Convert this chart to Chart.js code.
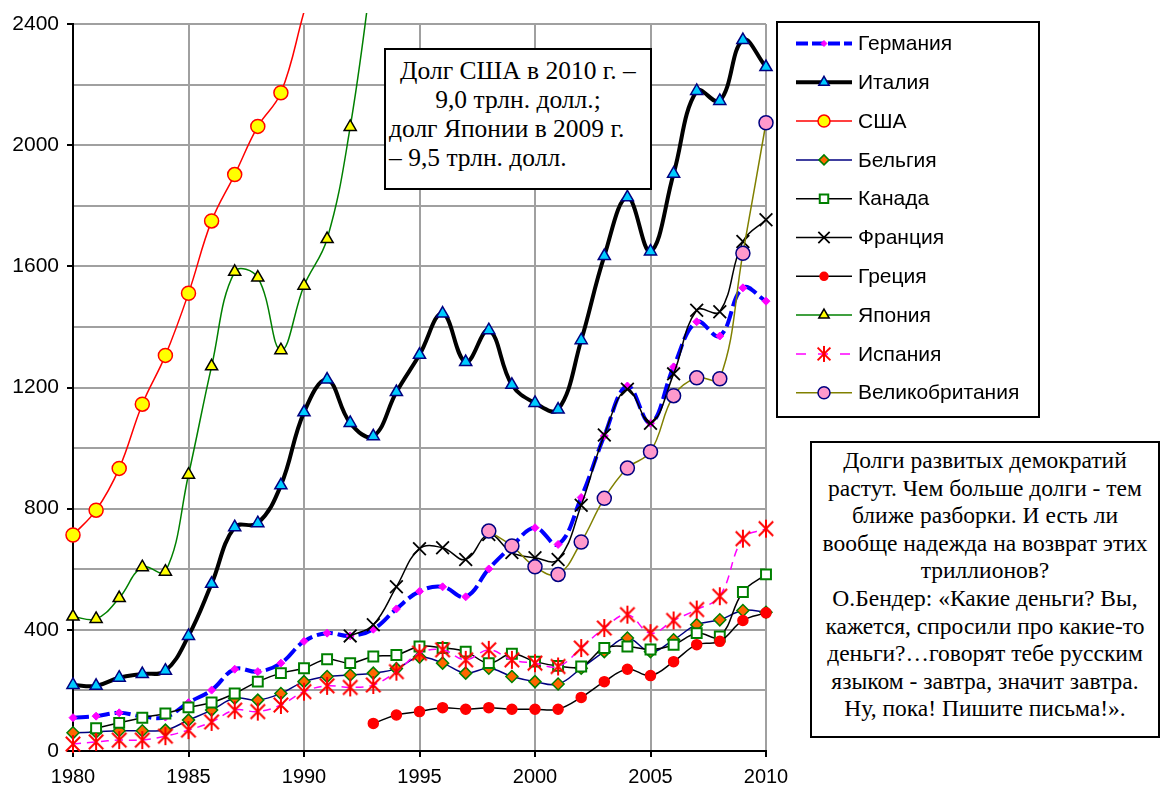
<!DOCTYPE html>
<html>
<head>
<meta charset="utf-8">
<script src="https://cdn.jsdelivr.net/npm/chart.js@4.4.1/dist/chart.umd.min.js"></script>
<style>
  html, body { margin: 0; padding: 0; background: #fff; }
  #wrap { position: relative; width: 1161px; height: 787px; }
  canvas { position: absolute; left: 0; top: 0; }
  .note {
    position: absolute;
    background: #fff;
    border: 2px solid #000;
    font-family: "Liberation Serif", "Times New Roman", serif;
    color: #000;
    white-space: nowrap;
    box-sizing: border-box;
  }
  #note1 { left: 384px; top: 48px; width: 268px; height: 142px; font-size: 25.5px; line-height: 29px; padding-top: 6px; }
  #note1 .c { text-align: center; }
  #note1 .l { text-align: left; padding-left: 3px; }
  #note2 { left: 810px; top: 441px; width: 350px; height: 297px; font-size: 23.5px; line-height: 27.6px; padding-top: 4px; text-align: center; }
</style>
</head>
<body>
<div id="wrap">
  <canvas id="chart" width="1161" height="787"></canvas>
  <div id="note1" class="note">
    <div class="c">Долг США в 2010 г. –</div>
    <div class="c">9,0 трлн. долл.;</div>
    <div class="l">долг Японии в 2009 г.</div>
    <div class="l">– 9,5 трлн. долл.</div>
  </div>
  <div id="note2" class="note">
    Долги развитых демократий<br>
    растут. Чем больше долги - тем<br>
    ближе разборки. И есть ли<br>
    вообще надежда на возврат этих<br>
    триллионов?<br>
    О.Бендер: «Какие деньги? Вы,<br>
    кажется, спросили про какие-то<br>
    деньги?…говорят тебе русским<br>
    языком - завтра, значит завтра.<br>
    Ну, пока! Пишите письма!».
  </div>
</div>

<script>
/* ---------------- Data (billions) ---------------- */
const years = [];
for (let y = 1980; y <= 2010; y++) years.push(y);

const germany = [110, 115, 126, 114, 112, 160, 201, 270, 262, 290, 362, 389, 380, 402, 469, 527,
    542, 509, 601, 676, 737, 682, 837, 1040, 1205, 1082, 1268, 1417, 1370, 1529, 1485];
const italy = [218, 215, 242, 254, 265, 380, 552, 739, 752, 877, 1118, 1226, 1083, 1039, 1185, 1308,
    1444, 1284, 1389, 1209, 1149, 1127, 1356, 1634, 1828, 1649, 1906, 2179, 2146, 2347, 2258];
const usa = [713, 795, 933, 1145, 1306, 1511, 1750, 1903, 2062, 2173, 2440,
    null, null, null, null, null, null, null, null, null, null, null, null, null, null, null,
    null, null, null, null, null];
const belgium = [60, 63, 67, 67, 69, 102, 135, 174, 168, 190, 229, 246, 251, 257, 272, 310,
    290, 257, 273, 246, 229, 221, 273, 328, 373, 328, 367, 417, 433, 464, 458];
const canada = [null, 75, 93, 110, 124, 144, 160, 190, 229, 257, 273, 303, 290, 312, 317, 345,
    340, 328, 290, 321, 295, 281, 279, 340, 345, 335, 351, 389, 378, 525, 583];
const france = [null, null, null, null, null, null, null, null, null, null, null, null, 380, 417, 542, 668,
    671, 632, 715, 655, 638, 632, 811, 1043, 1194, 1082, 1245, 1455, 1450, 1682, 1754];
const greece = [null, null, null, null, null, null, null, null, null, null, null, null, null, 91, 119, 130,
    143, 138, 143, 138, 138, 138, 177, 229, 270, 249, 295, 351, 362, 431, 456];
const japan = [444, 436, 505, 607, 592, 912, 1270, 1582, 1563, 1323, 1536, 1690, 2060, 2600,
    null, null, null, null, null, null, null, null, null, null, null, null, null, null, null, null, null];
const spain = [23, 30, 36, 36, 49, 69, 96, 135, 130, 152, 196, 215, 210, 218, 262, 323,
    334, 301, 334, 301, 290, 279, 340, 406, 450, 389, 431, 467, 511, 701, 734];
const uk = [null, null, null, null, null, null, null, null, null, null, null, null, null, null, null, null,
    null, null, 726, 677, 608, 583, 690, 834, 934, 988, 1173, 1232, 1229, 1643, 2074];

const yTicks = [0, 400, 800, 1200, 1600, 2000, 2400];

/* ---------------- Helpers ---------------- */
const pts = arr => years.map((x, i) => ({ x, y: arr[i] })).filter(p => p.y !== null);
// hide marker for points above the axis max (line runs off the top)
const radii = (arr, r) => pts(arr).map(p => p.y > 2400 ? 0 : r);

// Excel-style asterisk: vertical bar plus an X
function asterisk(r, color) {
    const c = document.createElement("canvas");
    c.width = c.height = 2 * r + 4;
    const g = c.getContext("2d");
    const m = r + 2, d = r * 0.8;
    g.strokeStyle = color;
    g.lineWidth = 2;
    g.beginPath();
    g.moveTo(m, m - r); g.lineTo(m, m + r);
    g.moveTo(m - d, m - d); g.lineTo(m + d, m + d);
    g.moveTo(m - d, m + d); g.lineTo(m + d, m - d);
    g.stroke();
    return c;
}
const starImg = asterisk(9, "#FF0000");
const starImgSmall = asterisk(8, "#FF0000");

function series(label, arr, s) {
    return {
        label,
        data: pts(arr),
        borderColor: s.line,
        borderWidth: s.width || 1.5,
        borderDash: s.dash || [],
        backgroundColor: s.fill || "transparent",
        pointStyle: s.style,
        pointRadius: radii(arr, s.r),
        pointBackgroundColor: s.fill || "transparent",
        pointBorderColor: s.mark,
        pointBorderWidth: s.mw || 1.5,
        tension: 0.4,
        fill: false,
        clip: { left: 12, right: 12, top: 11, bottom: 12 },
        _legend: s
    };
}

const datasets = [
    series("Германия", germany, { line: "#0000FF", width: 4, dash: [16, 5], style: "rectRot", r: 4, fill: "#FF00FF", mark: "#FF00FF", mw: 1 }),
    series("Италия", italy, { line: "#000000", width: 4, style: "triangle", r: 7, fill: "#00CCFF", mark: "#000080" }),
    series("США", usa, { line: "#FF0000", style: "circle", r: 7, fill: "#FFFF00", mark: "#FF0000" }),
    series("Бельгия", belgium, { line: "#000080", style: "rectRot", r: 6, fill: "#FF6600", mark: "#008000" }),
    series("Канада", canada, { line: "#000000", style: "rect", r: 7, fill: "#FFFFFF", mark: "#008000", mw: 2 }),
    series("Франция", france, { line: "#000000", style: "crossRot", r: 9, mark: "#000000", mw: 1.8 }),
    series("Греция", greece, { line: "#000000", style: "circle", r: 5, fill: "#FF0000", mark: "#FF0000" }),
    series("Япония", japan, { line: "#008000", style: "triangle", r: 7, fill: "#FFFF00", mark: "#000000" }),
    series("Испания", spain, { line: "#FF00FF", dash: [8, 6], style: starImg, r: 9, mark: "#FF0000", mw: 2, legendStyle: starImgSmall }),
    series("Великобритания", uk, { line: "#808000", style: "circle", r: 7, fill: "#FF99CC", mark: "#000080" })
];
// later series on top, as in the original spreadsheet
datasets.forEach((d, i) => d.order = -i);

/* ---------------- Legend box drawn on canvas ---------------- */
const boxLegend = {
    id: "boxLegend",
    afterDraw(chart) {
        const ctx = chart.ctx;
        ctx.save();
        ctx.fillStyle = "#fff";
        ctx.fillRect(777, 22, 262, 395);
        ctx.strokeStyle = "#000";
        ctx.lineWidth = 2;
        ctx.setLineDash([]);
        ctx.strokeRect(777, 22, 262, 395);

        chart.data.datasets.forEach((d, i) => {
            const s = d._legend;
            const y = 43.5 + i * 38.8;
            ctx.strokeStyle = s.line;
            ctx.lineWidth = s.width || 1.5;
            ctx.setLineDash(s.dash ? [12, 4] : []);
            if (s.dash && s.width < 3) ctx.setLineDash([10, 12]);
            if (!s.width) ctx.setLineDash(s.dash ? [10, 12] : []);
            ctx.beginPath();
            ctx.moveTo(796, y);
            ctx.lineTo(852, y);
            ctx.stroke();
            ctx.setLineDash([]);

            ctx.fillStyle = s.fill || "transparent";
            ctx.strokeStyle = s.mark;
            ctx.lineWidth = s.mw || 1.5;
            Chart.helpers.drawPoint(ctx, {
                pointStyle: s.legendStyle || s.style,
                radius: s.r - 1,
                rotation: 0,
                borderWidth: s.mw || 1.5
            }, 824, y);

            ctx.fillStyle = "#000";
            ctx.font = "21px 'Liberation Sans', Arial, sans-serif";
            ctx.textAlign = "left";
            ctx.textBaseline = "middle";
            ctx.fillText(d.label, 858, y + 1);
        });
        ctx.restore();
    }
};

/* ---------------- Chart ---------------- */
new Chart(document.getElementById("chart"), {
    type: "line",
    data: { datasets },
    options: {
        responsive: false,
        animation: false,
        devicePixelRatio: 1,
        layout: { padding: { top: 24, right: 395, left: 0, bottom: 0 } },
        plugins: {
            legend: { display: false },
            tooltip: { enabled: false }
        },
        scales: {
            x: {
                type: "linear",
                min: 1980,
                max: 2010,
                afterFit: s => { s.height = 36; },
                ticks: {
                    stepSize: 5,
                    color: "#000",
                    padding: 8,
                    font: { family: "'Liberation Sans', Arial, sans-serif", size: 20 },
                    callback: v => String(v)
                },
                grid: { color: "#A0A0A0", lineWidth: 2, tickLength: 6, tickColor: "#000" },
                border: { color: "#000", width: 2 }
            },
            y: {
                min: 0,
                max: 2400,
                afterFit: s => { s.width = 73; },
                ticks: {
                    stepSize: 200,
                    color: "#000",
                    padding: 8,
                    font: { family: "'Liberation Sans', Arial, sans-serif", size: 21 },
                    callback: v => yTicks.includes(v) ? String(v) : ""
                },
                grid: {
                    color: "#A0A0A0",
                    lineWidth: 2,
                    tickLength: 6,
                    tickColor: c => yTicks.includes(c.tick.value) ? "#000" : "transparent"
                },
                border: { color: "#000", width: 2 }
            }
        }
    },
    plugins: [boxLegend]
});
</script>
</body>
</html>
